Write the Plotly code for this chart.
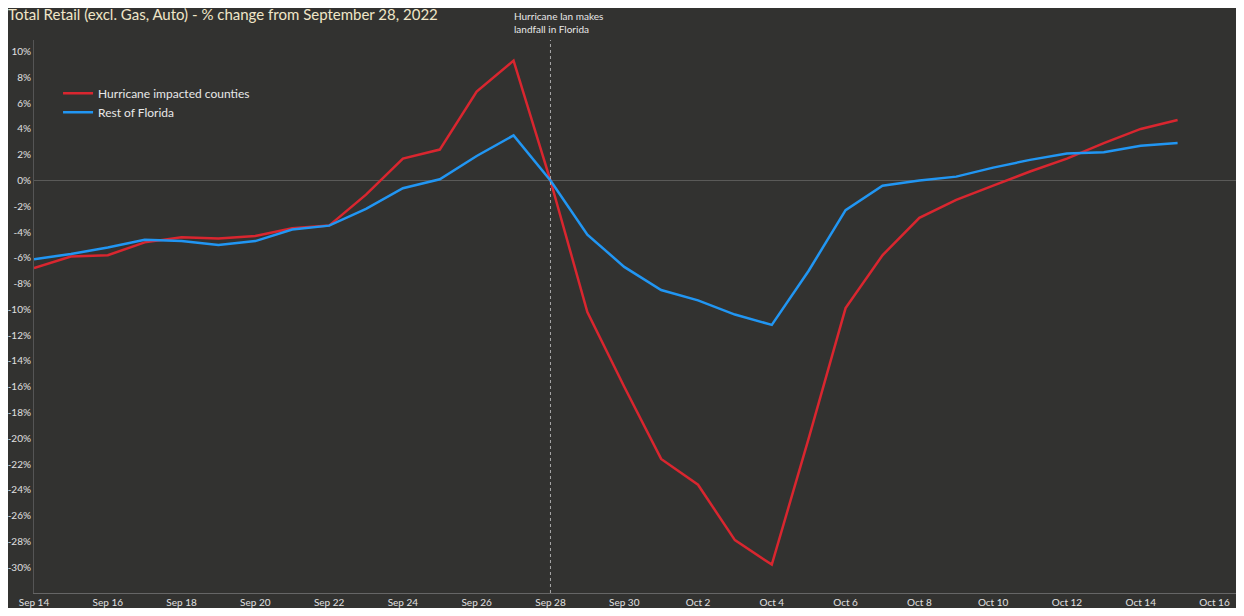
import plotly.graph_objects as go
import pandas as pd

dates = pd.date_range("2022-09-14", "2022-10-15").strftime("%Y-%m-%d").tolist()
impacted = [-6.8, -5.9, -5.8, -4.8, -4.4, -4.5, -4.3, -3.7, -3.5, -1.1, 1.7, 2.4, 6.9, 9.3, 0.0,
            -10.2, -16.0, -21.6, -23.6, -27.9, -29.8, -20.0, -9.9, -5.8, -2.9, -1.5, -0.4, 0.7,
            1.7, 2.9, 4.0, 4.7]
rest = [-6.1, -5.7, -5.2, -4.6, -4.7, -5.0, -4.7, -3.8, -3.5, -2.2, -0.6, 0.1, 1.9, 3.5, 0.0,
        -4.2, -6.7, -8.5, -9.3, -10.4, -11.2, -7.0, -2.3, -0.4, 0.0, 0.3, 1.0, 1.6, 2.1, 2.2,
        2.7, 2.9]
tick_dates = pd.date_range("2022-09-14", "2022-10-16", freq="2D").strftime("%Y-%m-%d").tolist()
tick_text = ["Sep 14", "Sep 16", "Sep 18", "Sep 20", "Sep 22", "Sep 24", "Sep 26", "Sep 28",
             "Sep 30", "Oct 2", "Oct 4", "Oct 6", "Oct 8", "Oct 10", "Oct 12", "Oct 14", "Oct 16"]
y_ticks = list(range(-30, 11, 2))

fig = go.Figure()
fig.add_trace(go.Scatter(x=dates, y=impacted, mode="lines", name="Hurricane impacted counties",
                         line=dict(color="#d9262f", width=2.5)))
fig.add_trace(go.Scatter(x=dates, y=rest, mode="lines", name="Rest of Florida",
                         line=dict(color="#2196f3", width=2.5)))
fig.add_shape(type="line", x0="2022-09-28", x1="2022-09-28", y0=0, y1=1, yref="paper",
              line=dict(color="#aaaaaa", width=1, dash="dot"))
fig.add_annotation(x="2022-09-28", y=1.058, yref="paper", xanchor="left", yanchor="top",
                   xshift=-38, align="left", showarrow=False,
                   text="Hurricane Ian makes<br>landfall in Florida",
                   font=dict(size=10, color="#e8e8e8"))
fig.update_layout(
    width=1228, height=600, paper_bgcolor="#323230", plot_bgcolor="#323230",
    margin=dict(l=22, r=0, t=32, b=10),
    font=dict(family="Lato, sans-serif", color="#e0e0e0", size=10),
    title=dict(text="Total Retail (excl. Gas, Auto) - % change from September 28, 2022",
               x=0.0, y=0.998, yanchor="top", xanchor="left",
               font=dict(size=15, color="#f0e6c8")),
    legend=dict(x=0.02, y=0.93, bgcolor="rgba(0,0,0,0)", font=dict(size=12, color="#e8e8e8"),
                itemwidth=30, tracegroupgap=0),
    showlegend=True,
)
fig.update_xaxes(range=["2022-09-14", "2022-10-16 14:00"], tickvals=tick_dates, ticktext=tick_text,
                 showgrid=False, zeroline=False, showline=True, linecolor="#666666",
                 ticks="", tickfont=dict(size=10, color="#e0e0e0"))
fig.update_yaxes(range=[-32, 10.9], tickvals=y_ticks, ticktext=[f"{v}%" for v in y_ticks],
                 showgrid=False, zeroline=True, zerolinecolor="#5a5a58", zerolinewidth=1,
                 showline=True, linecolor="#555555", ticks="", tickfont=dict(size=10, color="#e0e0e0"))
fig.write_html("out.html")
